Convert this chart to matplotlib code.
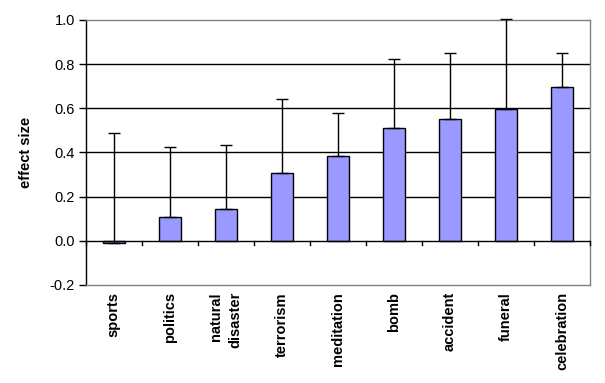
import matplotlib
matplotlib.use("Agg")
import matplotlib.pyplot as plt
import numpy as np

plt.rcParams['font.family'] = ['Liberation Sans', 'DejaVu Sans']

categories = ["sports", "politics", "natural\ndisaster", "terrorism", "meditation",
              "bomb", "accident", "funeral", "celebration"]
values = [-0.01, 0.107, 0.143, 0.309, 0.383, 0.51, 0.551, 0.597, 0.698]
upper = [0.487, 0.424, 0.433, 0.644, 0.58, 0.825, 0.852, 1.006, 0.852]
yticks = [-0.2, 0.0, 0.2, 0.4, 0.6, 0.8, 1.0]

errs = [u - v for u, v in zip(upper, values)]
x = np.arange(len(categories))

fig = plt.figure(figsize=(6.05, 3.83), dpi=100)
ax = fig.add_axes([0.142, 0.256, 0.833, 0.692])

ax.set_ylim(-0.2, 1.0)
ax.set_xlim(-0.5, len(categories) - 0.5)
for t in yticks[1:-1]:
    if t != 0.0:
        ax.axhline(t, color='black', lw=1.0, zorder=1)

ax.bar(x, values, width=0.4, color='#9999FF', edgecolor='black', lw=1.0, zorder=2)
eb = ax.errorbar(x, values, yerr=[np.zeros(len(errs)), errs], fmt='none', ecolor='black',
                 elinewidth=1.0, capsize=4, capthick=1.0, zorder=3)
for art in list(eb.lines[1]) + list(eb.lines[2]):
    art.set_clip_on(False)

ax.axhline(0.0, color='black', lw=1.0, zorder=4)
# category boundary ticks on the zero line
for b in np.arange(len(categories) + 1) - 0.5:
    ax.plot([b, b], [0.0, -0.02], color='black', lw=1.0, zorder=4, clip_on=False)

ax.set_yticks(yticks)
ax.set_yticklabels([f"{t:.1f}" for t in yticks], fontsize=10.5)
ax.tick_params(axis='y', length=5, width=1, direction='out', pad=3)
ax.set_xticks([])

for side in ['top', 'right', 'bottom']:
    ax.spines[side].set_color('#808080')
    ax.spines[side].set_linewidth(1.0)
ax.spines['left'].set_color('black')
ax.spines['left'].set_linewidth(1.0)

for xi, lab in zip(x, categories):
    ax.text(xi, -0.232, lab, rotation=90, ha='center', va='top', multialignment='right',
            fontsize=10.5, fontweight='bold', linespacing=1.5)

ax.set_ylabel("effect size", fontsize=10.5, fontweight='bold', labelpad=12)

fig.savefig("out.png", dpi=100)
